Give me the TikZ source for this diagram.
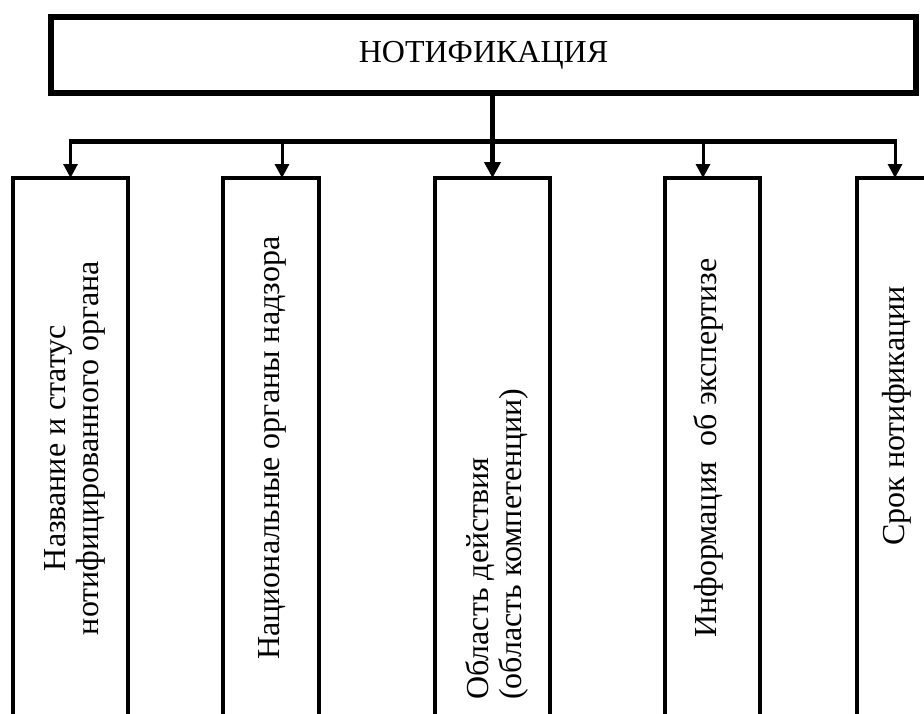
\documentclass[tikz,border=0pt]{standalone}
\usepackage{fontspec}
\setmainfont{Liberation Serif}
\usetikzlibrary{arrows.meta}
\begin{document}
\begin{tikzpicture}[x=1pt,y=-1pt,
  topbox/.style={draw,line width=6pt,minimum width=865pt,minimum height=76pt,inner sep=0pt,outer sep=0pt,font=\fontsize{32}{33}\selectfont},
  subbox/.style={draw,line width=4pt,minimum height=600pt,anchor=north,inner sep=0pt,outer sep=0pt},
  lbl/.style={rotate=90,align=center,inner sep=0pt,font=\fontsize{32}{33}\selectfont},
  bus/.style={line width=5pt},
  arr/.style={line width=3pt,-{Triangle[width=14pt,length=14pt]}},
  arrmain/.style={line width=5pt,-{Triangle[width=16pt,length=16pt]}}]
\useasboundingbox (0,0) rectangle (924,713);
\clip (0,0) rectangle (924,713);
\node[topbox] (top) at (483.5,55) {НОТИФИКАЦИЯ};
\node[subbox,minimum width=115pt] (b1) at (70.5,178) {};
\node[subbox,minimum width=96pt] (b2) at (271,178) {};
\node[subbox,minimum width=115pt] (b3) at (492.5,178) {};
\node[subbox,minimum width=95pt] (b4) at (712.5,178) {};
\node[subbox,minimum width=120pt] (b5) at (917,178) {};
\coordinate (barL) at (68.5,141);
\coordinate (barR) at (896.5,141);
\coordinate (a2) at (282,141);
\coordinate (a4) at (703,141);
\coordinate (a5) at (895,141);
\draw[bus] (barL) -- (barR);
\draw[arrmain] (top.south -| b3.north) -- (b3.north);
\draw[arr] (b1.north |- barL) -- (b1.north);
\draw[arr] (a2) -- (a2 |- b2.north);
\draw[arr] (a4) -- (a4 |- b4.north);
\draw[arr] (a5) -- (a5 |- b5.north);
\node[lbl] (l1) at (75,448) {Название и статус\\нотифицированного органа};
\node[lbl] (l2) at (272,448) {Национальные органы надзора};
\node[lbl,anchor=west,align=left] (l3) at (496.5,700) {Область действия\\(область компетенции)};
\node[lbl] (l4) at (708,448) {Информация\ \ об экспертизе};
\node[lbl] (l5) at (897,416) {Срок нотификации};
\end{tikzpicture}
\end{document}
